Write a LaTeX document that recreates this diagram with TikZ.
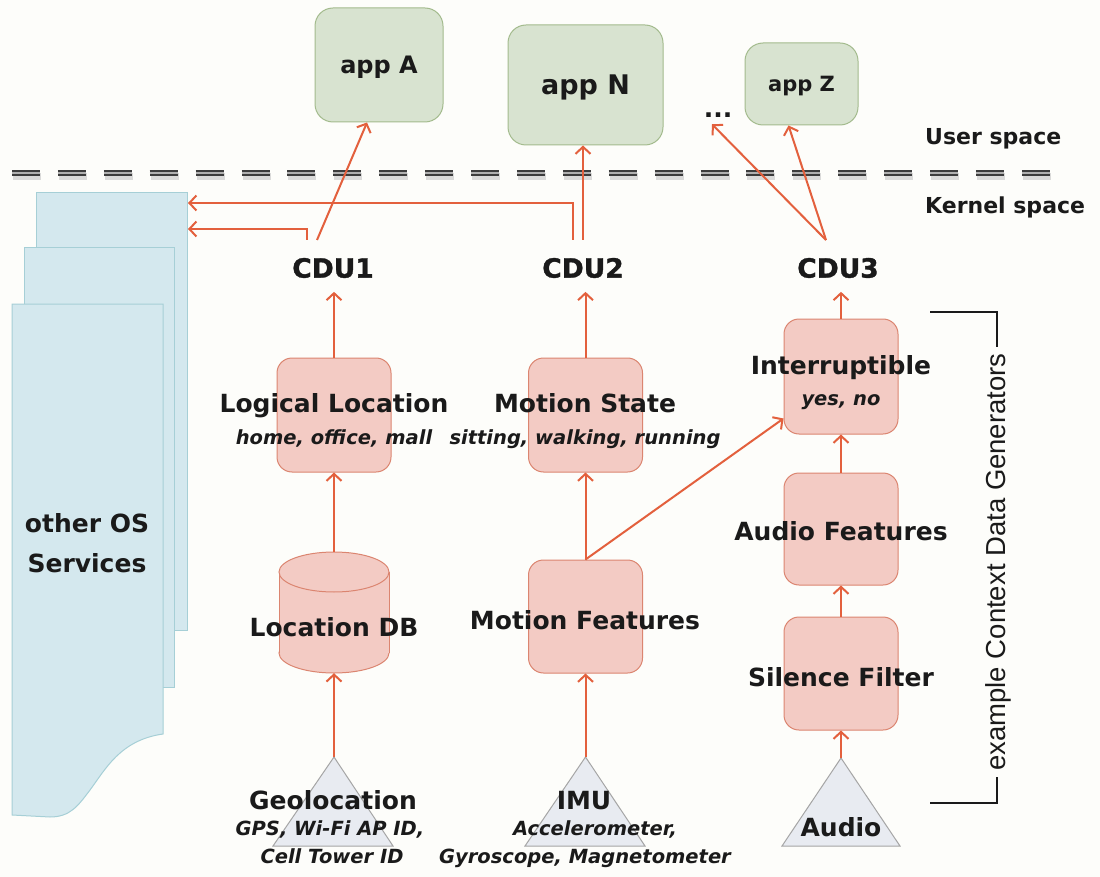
\documentclass[tikz,border=0pt]{standalone}
\usepackage{fontspec}
\setmainfont{DejaVu Sans}
\newfontfamily\heavyfont[BoldFeatures={FakeBold=1.2}]{DejaVu Sans}
\newfontfamily\arialfont{Liberation Sans}
\usetikzlibrary{arrows.meta,calc}
\definecolor{bg}{HTML}{FDFDFA}
\definecolor{pinkfill}{HTML}{F3CBC4}
\definecolor{pinkdraw}{HTML}{DB8570}
\definecolor{arrowc}{HTML}{E3603D}
\definecolor{greenfill}{HTML}{D8E3D0}
\definecolor{greendraw}{HTML}{A3BB8D}
\definecolor{bluefill}{HTML}{D4E8EE}
\definecolor{bluedraw}{HTML}{A6CFD6}
\definecolor{trifill}{HTML}{E8EBF1}
\definecolor{tridraw}{HTML}{A5A5A5}
\definecolor{txt}{HTML}{1A1A1A}
\definecolor{sepdark}{HTML}{3C3C3C}
\definecolor{sepmid}{HTML}{B0B0B0}
\begin{document}
\begin{tikzpicture}[x=1pt,y=-1pt,
  pinkbox/.style={draw=pinkdraw, fill=pinkfill, rounded corners=15pt, line width=1pt, minimum width=114pt, minimum height=114pt, inner sep=0pt},
  appbox/.style={draw=greendraw, fill=greenfill, rounded corners=18pt, line width=1pt, inner sep=0pt, text=txt, text depth=0pt},
  page/.style={draw=bluedraw, fill=bluefill, line width=1pt},
  tri/.style={draw=tridraw, fill=trifill, line width=1pt},
  lbl/.style={font=\bfseries\fontsize{25}{30}\selectfont, text=txt, inner sep=0pt, text height=18.2pt, text depth=0pt},
  sublbl/.style={font=\bfseries\itshape\fontsize{19.5}{24}\selectfont, text=txt, inner sep=0pt, text height=14.2pt, text depth=0pt},
  cdu/.style={font=\heavyfont\bfseries\fontsize{26.5}{30}\selectfont, text=txt, inner xsep=0pt, inner ysep=14pt, text height=19.3pt, text depth=0pt},
  spacelbl/.style={font=\bfseries\fontsize{22}{26}\selectfont, text=txt, inner sep=0pt, text height=16pt, text depth=0pt, anchor=west},
  flow/.style={draw=arrowc, line width=2pt, -{Straight Barb[length=7pt,width=15pt]}},
  sepdash/.style={dash pattern=on 28pt off 17.9pt}
]
\useasboundingbox (0,0) rectangle (1100,877);
\fill[bg] (0,0) rectangle (1100,877);

% ---- other OS services pages
\draw[page] (36,193) rectangle (187,630);
\draw[page] (24,248) rectangle (174,687);
\draw[page] (12,304) -- (163,304) -- (163,734) .. controls (120,740) and (105,770) .. (90,790) .. controls (78,806) and (70,817) .. (50,817) -- (12,815) -- cycle;
\node[lbl] (os1) at (87,523) {other OS};
\node[lbl] (os2) at (87,563) {Services};
\coordinate (osin1) at (188,203);
\coordinate (osin2) at (188,229);

% ---- separator
\draw[line width=7pt, gray!50, opacity=0.55, sepdash] (13,176.5) -- (1051,176.5);
\draw[draw=sepdark, line width=2.4pt, double=sepmid, double distance=1.8pt, sepdash] (12,173) -- (1050,173);
\node[spacelbl] (user) at (925,137) {User space};
\node[spacelbl] (kernel) at (925,206) {Kernel space};

% ---- apps
\node[appbox, minimum width=128pt, minimum height=114pt, font=\bfseries\fontsize{24}{28}\selectfont, text height=17.5pt] (appA) at (379,65) {app A};
\node[appbox, minimum width=155pt, minimum height=120pt, font=\bfseries\fontsize{27}{32}\selectfont, text height=19.7pt] (appN) at (585.5,85) {app N};
\node[appbox, minimum width=113pt, minimum height=82pt, font=\bfseries\fontsize{21}{25}\selectfont, text height=15.3pt] (appZ) at (801.5,84) {app Z};
\node[font=\bfseries\fontsize{25}{30}\selectfont, text=txt, anchor=base, inner xsep=0pt, inner ysep=6pt] (dots) at (718,118) {...};

% ---- CDUs
\node[cdu] (cdu1) at (333,268) {CDU1};
\node[cdu] (cdu2) at (583,268) {CDU2};
\node[cdu] (cdu3) at (838,268) {CDU3};
\coordinate (c1a) at (317,240);
\coordinate (c1b) at (307,240);
\coordinate (c2a) at (583,240);
\coordinate (c2b) at (573,240);
\coordinate (c3) at (826,240);

% ---- column 1
\node[pinkbox] (ll) at (334,415) {};
\node[lbl] (lltitle) at (334,403) {Logical Location};
\node[sublbl] (llsub) at (334,437) {home, office, mall};

\draw[pinkdraw, fill=pinkfill, line width=1pt] (334,653) ellipse [x radius=55, y radius=20];
\fill[pinkfill] (279,572) rectangle (389,653);
\draw[pinkdraw, line width=1pt] (279,572) -- (279,653) (389,572) -- (389,653);
\draw[pinkdraw, fill=pinkfill, line width=1pt] (334,572) ellipse [x radius=55, y radius=20];
\node[minimum width=110pt, minimum height=121pt, inner sep=0pt] (locdb) at (334,612.5) {};
\node[lbl] (locdbtxt) at (334,627) {Location DB};

\draw[tri] (273,846) -- (334,757) -- (393,846) -- cycle;
\coordinate (geoapex) at (334,757);
\node[lbl] (geo) at (333,800) {Geolocation};
\node[sublbl] (geo1) at (330,828) {GPS, Wi-Fi AP ID,};
\node[sublbl] (geo2) at (332,856) {Cell Tower ID};

% ---- column 2
\node[pinkbox] (ms) at (585.5,415) {};
\node[lbl] (mstitle) at (585,403) {Motion State};
\node[sublbl] (mssub) at (585,437) {sitting, walking, running};

\node[pinkbox, minimum height=113pt] (mf) at (585.5,616.5) {};
\node[lbl] (mftxt) at (585,620) {Motion Features};

\draw[tri] (525,846) -- (585.5,757) -- (645,846) -- cycle;
\coordinate (imuapex) at (585.5,757);
\node[lbl] (imu) at (584,800) {IMU};
\node[sublbl] (imu1) at (595,828) {Accelerometer,};
\node[sublbl] (imu2) at (585,856) {Gyroscope, Magnetometer};

% ---- column 3
\node[pinkbox, minimum height=115pt] (int) at (841,376.5) {};
\node[lbl] (inttitle) at (841,365) {Interruptible};
\node[sublbl] (intsub) at (841,398) {yes, no};

\node[pinkbox, minimum height=112pt] (af) at (841,529) {};
\node[lbl] (aftxt) at (841,531) {Audio Features};

\node[pinkbox, minimum height=113pt] (sf) at (841,673.5) {};
\node[lbl] (sftxt) at (841,677) {Silence Filter};

\draw[tri] (782,846) -- (841,758) -- (900,846) -- cycle;
\coordinate (audioapex) at (841,758);
\node[lbl] (audio) at (841,827) {Audio};

% ---- bracket
\draw[line width=2pt, txt] (930,312) -- (997,312) -- (997,803) -- (930,803);
\node[rotate=90, fill=bg, text=txt, font=\arialfont\fontsize{27.5}{30}\selectfont, inner xsep=6pt, inner ysep=2pt] (ecdg) at (998,562) {example Context Data Generators};

% ---- connectors
\draw[flow] (geoapex) -- (locdb.south);
\draw[flow] (locdb.north) -- (ll.south);
\draw[flow] (ll.north) -- (ll.north |- cdu1.south);
\draw[flow] (imuapex) -- (mf.south);
\draw[flow] (mf.north) -- (ms.south);
\draw[flow] (ms.north) -- (ms.north |- cdu2.south);
\draw[flow] (mf.north) -- ($(int.south west)+(0,-16)$);
\draw[flow] (audioapex) -- (sf.south);
\draw[flow] (sf.north) -- (af.south);
\draw[flow] (af.north) -- (int.south);
\draw[flow] (int.north) -- (int.north |- cdu3.south);
\draw[flow] (c1a) -- ($(appA.south)+(-12,0)$);
\draw[flow] (c1b) |- (osin2);
\draw[flow] (c2b) |- (osin1);
\draw[flow] (c2a) -- (c2a |- appN.south);
\draw[flow] (c3) -- ($(dots.south)+(-6,0)$);
\draw[flow] (c3) -- ($(appZ.south)+(-13,0)$);
\end{tikzpicture}
\end{document}
